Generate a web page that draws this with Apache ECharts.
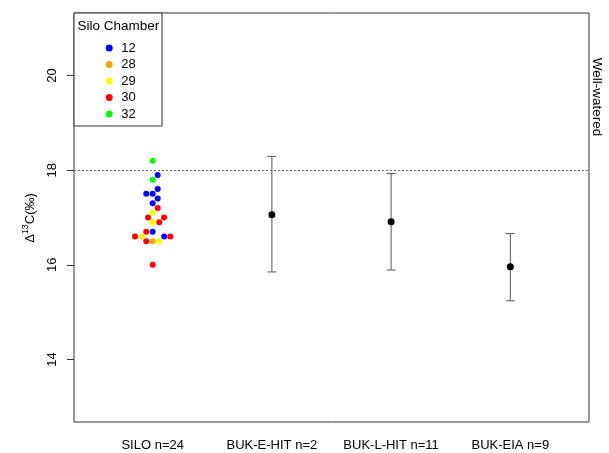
<!DOCTYPE html>
<html><head><meta charset="utf-8">
<script src="https://cdn.jsdelivr.net/npm/echarts@6/dist/echarts.min.js"></script>
<style>html,body{margin:0;padding:0;background:#fff}#c{width:609px;height:453px}</style>
</head><body><div id="c"></div>
<script>
const categories = ['SILO n=24', 'BUK-E-HIT n=2', 'BUK-L-HIT n=11', 'BUK-EIA n=9'];
const yTicks = [14, 16, 18, 20];
const chambers = ['12', '28', '29', '30', '32'];
const chamberColors = ['#0000FF', '#FFA500', '#FFFF00', '#FF0000', '#00FF00'];
// SILO points: [jittered x, value]
const silo12 = [[1.042,17.9],[1.042,17.6],[0.946,17.5],[1.0,17.5],[1.042,17.4],[1.0,17.3],[1.0,16.7],[1.097,16.6]];
const silo28 = [[1.0,16.5]];
const silo29 = [[1.0,17.1],[1.0,16.9],[0.910,16.6],[1.055,16.5]];
const silo30 = [[1.042,17.2],[0.961,17.0],[1.095,17.0],[1.055,16.9],[0.946,16.7],[0.852,16.6],[1.148,16.6],[0.946,16.5],[1.0,16.0]];
const silo32 = [[1.0,18.2],[1.0,17.8]];
const siloByChamber = [silo12, silo28, silo29, silo30, silo32];
const groupX = [2, 3, 4];
const groupMean = [17.06, 16.91, 15.96];
const groupLow = [15.85, 15.89, 15.24];
const groupHigh = [18.29, 17.93, 16.66];
const refLine = 18;

const font = 'Liberation Sans, Arial, sans-serif';
const chart = echarts.init(document.getElementById('c'), null, {renderer: 'canvas'});

const series = chambers.map((name, i) => ({
  name: name,
  type: 'scatter',
  data: siloByChamber[i],
  symbol: 'circle',
  symbolSize: 6,
  itemStyle: {color: chamberColors[i], opacity: 1},
  z: 5
}));

series.push({
  type: 'custom',
  data: groupX.map((x, i) => [x, groupLow[i], groupHigh[i]]),
  renderItem: function (params, api) {
    const lo = api.coord([api.value(0), api.value(1)]);
    const hi = api.coord([api.value(0), api.value(2)]);
    const w = 4.5;
    const st = {stroke: '#555', lineWidth: 1};
    return {type: 'group', children: [
      {type: 'line', shape: {x1: lo[0], y1: lo[1], x2: hi[0], y2: hi[1]}, style: st},
      {type: 'line', shape: {x1: lo[0] - w, y1: lo[1], x2: lo[0] + w, y2: lo[1]}, style: st},
      {type: 'line', shape: {x1: hi[0] - w, y1: hi[1], x2: hi[0] + w, y2: hi[1]}, style: st}
    ]};
  },
  z: 3
});

series.push({
  type: 'scatter',
  data: groupX.map((x, i) => [x, groupMean[i]]),
  symbol: 'circle',
  symbolSize: 7,
  itemStyle: {color: '#000', opacity: 1},
  z: 6,
  markLine: {
    silent: true,
    symbol: ['none', 'none'],
    label: {show: false},
    lineStyle: {color: '#666', type: [2, 2], width: 1},
    data: [{yAxis: refLine}]
  }
});

chart.setOption({
  animation: false,
  backgroundColor: '#fff',
  grid: {left: 74, right: 20, top: 13, bottom: 31, show: true, borderColor: '#333', borderWidth: 1, backgroundColor: 'transparent'},
  xAxis: {
    type: 'value', min: 0.34, max: 4.66,
    axisLine: {show: false}, axisTick: {show: false}, splitLine: {show: false},
    axisLabel: {customValues: [1, 2, 3, 4], formatter: v => categories[Math.round(v) - 1], color: '#000', fontFamily: font, fontSize: 13, margin: 17}
  },
  yAxis: {
    type: 'value', min: 12.68, max: 21.32,
    axisLine: {show: false}, splitLine: {show: false},
    axisTick: {show: true, customValues: yTicks, length: 7, lineStyle: {color: '#333'}},
    axisLabel: {customValues: yTicks, rotate: 90, color: '#000', fontFamily: font, fontSize: 13, margin: 15}
  },
  legend: {
    orient: 'vertical', left: 100.7, top: 34.75,
    data: chambers, icon: 'circle', itemWidth: 14, itemHeight: 7, itemGap: 0,
    textStyle: {color: '#000', fontFamily: font, fontSize: 13, lineHeight: 16.5},
    selectedMode: false, z: 10
  },
  graphic: [
    {type: 'rect', shape: {x: 74, y: 13, width: 88, height: 113}, style: {fill: '#fff', stroke: '#333', lineWidth: 1}, z: 8},
    {type: 'text', x: 77.5, y: 26, z: 9, style: {text: 'Silo Chamber', font: '13.5px ' + font, fill: '#000', verticalAlign: 'middle'}},
    {type: 'text', x: 597, y: 97, rotation: -Math.PI / 2, z: 9, style: {text: 'Well-watered', font: '13.5px ' + font, fill: '#000', align: 'center', verticalAlign: 'middle'}},
    {type: 'text', x: 29, y: 218, rotation: Math.PI / 2, z: 9, style: {
      text: '{a|Δ}{s|13}{a|C(‰)}', align: 'center', verticalAlign: 'middle',
      rich: {a: {font: '13px ' + font, fill: '#000', lineHeight: 16, verticalAlign: 'bottom'}, s: {font: '9px ' + font, fill: '#000', lineHeight: 16, verticalAlign: 'top'}}
    }}
  ],
  series: series
});
</script></body></html>
